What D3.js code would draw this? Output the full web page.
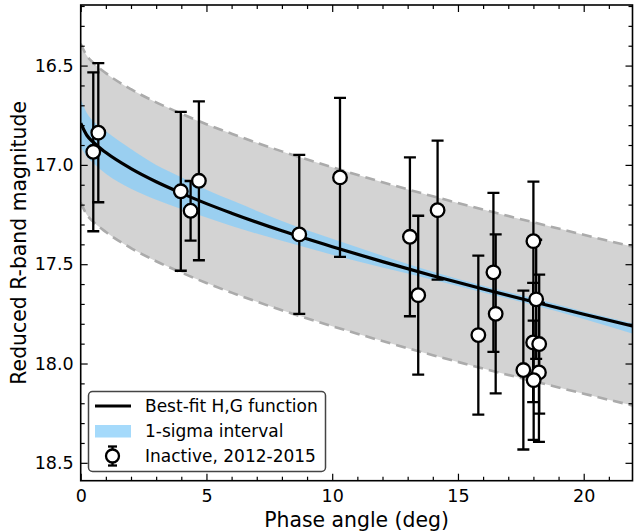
<!DOCTYPE html>
<html>
  <head>
    <meta charset="utf-8">
    <title>Phase curve</title>
    <script src="https://d3js.org/d3.v7.min.js"></script>
    <style>
      body { margin: 0; background: #fff; }
      text { font-family: "DejaVu Sans", sans-serif; fill: #000; }
    </style>
  </head>
  <body>
    <svg width="634" height="531"></svg>

    <script>
      // observations (phase angle in deg, reduced mag, 1-sigma error)
      const phase = [0.50, 0.70, 3.98, 4.37, 4.70, 8.69, 10.31, 13.09, 13.42, 14.19,
                     15.81, 16.41, 16.50, 18.00, 18.11, 17.99, 18.23, 17.60, 18.22, 18.01];
      const mag   = [16.934, 16.838, 17.133, 17.231, 17.080, 17.350, 17.063, 17.362, 17.656, 17.228,
                     17.857, 17.541, 17.750, 17.384, 17.677, 17.894, 17.902, 18.033, 18.045, 18.084];
      const magErr = [0.40, 0.35, 0.40, 0.15, 0.40, 0.40, 0.40, 0.40, 0.40, 0.35,
                      0.40, 0.40, 0.40, 0.30, 0.30, 0.30, 0.35, 0.40, 0.35, 0.30];

      // best-fit H,G curve
      const curveAlpha = [0, 0.25, 0.5, 1, 2, 3, 4, 5, 6, 8, 10, 12, 14, 16, 18, 20, 22];
      const bestFit    = [16.79, 16.852, 16.886, 16.938, 17.019, 17.085, 17.142, 17.195, 17.243,
                          17.332, 17.412, 17.487, 17.558, 17.625, 17.689, 17.752, 17.813];
      // 1-sigma interval (blue)
      const sigLow  = [16.67, 16.74, 16.78, 16.83, 16.92, 17.00, 17.062, 17.125, 17.178,
                       17.282, 17.372, 17.457, 17.538, 17.608, 17.672, 17.738, 17.80];
      const sigHigh = [16.91, 16.96, 16.99, 17.045, 17.12, 17.175, 17.222, 17.265, 17.308,
                       17.382, 17.452, 17.517, 17.578, 17.642, 17.706, 17.776, 17.852];
      // grey envelope (dashed edges)
      const envLow  = [16.39, 16.452, 16.486, 16.538, 16.619, 16.685, 16.742, 16.795, 16.843,
                       16.932, 17.012, 17.087, 17.158, 17.225, 17.289, 17.352, 17.413];
      const envHigh = [17.19, 17.252, 17.286, 17.338, 17.419, 17.485, 17.542, 17.595, 17.643,
                       17.732, 17.812, 17.887, 17.958, 18.025, 18.089, 18.152, 18.213];

      const xMajor = [0, 5, 10, 15, 20];
      const yMajor = [16.5, 17.0, 17.5, 18.0, 18.5];

      const pLeft = 80.7, pRight = 632.5, pTop = 5, pBottom = 480.7;

      const svg = d3.select("svg");

      const x = d3.scaleLinear().domain([0, 21.94]).range([pLeft, pRight]);
      const y = d3.scaleLinear().domain([16.195, 18.59]).range([pTop, pBottom]);

      svg.append("clipPath").attr("id", "plot")
        .append("rect")
          .attr("x", pLeft).attr("y", pTop)
          .attr("width", pRight - pLeft).attr("height", pBottom - pTop);

      const plot = svg.append("g").attr("clip-path", "url(#plot)");

      const idx = d3.range(curveAlpha.length);

      // grey envelope
      plot.append("path")
        .datum(idx)
        .attr("fill", "#d3d3d3")
        .attr("d", d3.area()
          .x(i => x(curveAlpha[i]))
          .y0(i => y(envLow[i]))
          .y1(i => y(envHigh[i]))
          .curve(d3.curveMonotoneX));

      [envLow, envHigh].forEach(function(arr) {
        plot.append("path")
          .datum(idx)
          .attr("fill", "none")
          .attr("stroke", "#ababab")
          .attr("stroke-width", 2.6)
          .attr("stroke-dasharray", "10,6")
          .attr("d", d3.line()
            .x(i => x(curveAlpha[i]))
            .y(i => y(arr[i]))
            .curve(d3.curveMonotoneX));
      });

      // 1-sigma band
      plot.append("path")
        .datum(idx)
        .attr("fill", "#87cefa")
        .attr("fill-opacity", 0.75)
        .attr("d", d3.area()
          .x(i => x(curveAlpha[i]))
          .y0(i => y(sigLow[i]))
          .y1(i => y(sigHigh[i]))
          .curve(d3.curveMonotoneX));

      // best fit
      plot.append("path")
        .datum(idx)
        .attr("fill", "none")
        .attr("stroke", "#000")
        .attr("stroke-width", 3.2)
        .attr("d", d3.line()
          .x(i => x(curveAlpha[i]))
          .y(i => y(bestFit[i]))
          .curve(d3.curveMonotoneX));

      // error bars + markers
      const pts = d3.range(phase.length);
      const eb = plot.append("g").attr("stroke", "#000").attr("stroke-width", 2.3);
      pts.forEach(function(i) {
        const cx = x(phase[i]);
        eb.append("line")
          .attr("x1", cx).attr("x2", cx)
          .attr("y1", y(mag[i] - magErr[i])).attr("y2", y(mag[i] + magErr[i]));
        [mag[i] - magErr[i], mag[i] + magErr[i]].forEach(function(v) {
          eb.append("line")
            .attr("x1", cx - 6).attr("x2", cx + 6)
            .attr("y1", y(v)).attr("y2", y(v));
        });
      });

      plot.append("g")
        .selectAll("circle")
        .data(pts)
        .enter()
        .append("circle")
          .attr("cx", i => x(phase[i]))
          .attr("cy", i => y(mag[i]))
          .attr("r", 6.8)
          .attr("fill", "#fff")
          .attr("stroke", "#000")
          .attr("stroke-width", 2.3);

      // axes, ticks pointing inward
      function styleAxis(g) {
        g.select(".domain").remove();
        g.selectAll(".tick line").attr("stroke", "#000").attr("stroke-width", 1.2);
        g.selectAll(".tick text")
          .attr("font-family", "DejaVu Sans")
          .attr("font-size", "17.5px")
          .attr("fill", "#000");
      }

      const xMinor = d3.range(1, 22).filter(d => d % 5 !== 0);
      const yMinor = d3.range(162, 186).map(d => d / 10).filter(d => Math.round(d * 10) % 5 !== 0);

      svg.append("g").attr("transform", `translate(0,${pBottom})`)
        .call(d3.axisBottom(x).tickValues(xMajor).tickSize(-7).tickPadding(9).tickFormat(d3.format("d")))
        .call(styleAxis);
      svg.append("g").attr("transform", `translate(0,${pBottom})`)
        .call(d3.axisBottom(x).tickValues(xMinor).tickSize(-4).tickFormat(""))
        .call(styleAxis);
      svg.append("g").attr("transform", `translate(0,${pTop})`)
        .call(d3.axisTop(x).tickValues(xMajor).tickSize(-7).tickFormat(""))
        .call(styleAxis);
      svg.append("g").attr("transform", `translate(0,${pTop})`)
        .call(d3.axisTop(x).tickValues(xMinor).tickSize(-4).tickFormat(""))
        .call(styleAxis);

      svg.append("g").attr("transform", `translate(${pLeft},0)`)
        .call(d3.axisLeft(y).tickValues(yMajor).tickSize(-7).tickPadding(7).tickFormat(d3.format(".1f")))
        .call(styleAxis);
      svg.append("g").attr("transform", `translate(${pLeft},0)`)
        .call(d3.axisLeft(y).tickValues(yMinor).tickSize(-4).tickFormat(""))
        .call(styleAxis);
      svg.append("g").attr("transform", `translate(${pRight},0)`)
        .call(d3.axisRight(y).tickValues(yMajor).tickSize(-7).tickFormat(""))
        .call(styleAxis);
      svg.append("g").attr("transform", `translate(${pRight},0)`)
        .call(d3.axisRight(y).tickValues(yMinor).tickSize(-4).tickFormat(""))
        .call(styleAxis);

      // frame
      svg.append("rect")
        .attr("x", pLeft).attr("y", pTop)
        .attr("width", pRight - pLeft).attr("height", pBottom - pTop)
        .attr("fill", "none")
        .attr("stroke", "#000")
        .attr("stroke-width", 1.6);

      // axis titles
      svg.append("text")
        .attr("x", (pLeft + pRight) / 2).attr("y", 527)
        .attr("text-anchor", "middle")
        .attr("font-size", "20.4px")
        .text("Phase angle (deg)");

      svg.append("text")
        .attr("transform", `translate(26,${(pTop + pBottom) / 2}) rotate(-90)`)
        .attr("text-anchor", "middle")
        .attr("font-size", "20.4px")
        .text("Reduced R-band magnitude");

      // legend
      const lg = svg.append("g");
      lg.append("rect")
        .attr("x", 88.5).attr("y", 391.5)
        .attr("width", 237).attr("height", 80)
        .attr("rx", 4)
        .attr("fill", "#fff")
        .attr("stroke", "#444")
        .attr("stroke-width", 1.5);

      lg.append("line")
        .attr("x1", 95).attr("x2", 131).attr("y1", 406).attr("y2", 406)
        .attr("stroke", "#000").attr("stroke-width", 3.2);
      lg.append("rect")
        .attr("x", 95).attr("y", 425).attr("width", 36).attr("height", 12.5)
        .attr("fill", "#87cefa").attr("fill-opacity", 0.75);
      lg.append("line")
        .attr("x1", 112.5).attr("x2", 112.5).attr("y1", 446.5).attr("y2", 465.5)
        .attr("stroke", "#000").attr("stroke-width", 2.3);
      [446.5, 465.5].forEach(function(v) {
        lg.append("line")
          .attr("x1", 108).attr("x2", 117).attr("y1", v).attr("y2", v)
          .attr("stroke", "#000").attr("stroke-width", 2.3);
      });
      lg.append("circle")
        .attr("cx", 112.5).attr("cy", 456).attr("r", 6.5)
        .attr("fill", "#fff").attr("stroke", "#000").attr("stroke-width", 2.3);

      const labels = ["Best-fit H,G function", "1-sigma interval", "Inactive, 2012-2015"];
      lg.selectAll("text.lab")
        .data(labels)
        .enter()
        .append("text")
          .attr("class", "lab")
          .attr("x", 145)
          .attr("y", (d, i) => 406 + i * 25)
          .attr("dy", "0.36em")
          .attr("font-size", "17px")
          .text(d => d);
    </script>
  </body>
</html>
